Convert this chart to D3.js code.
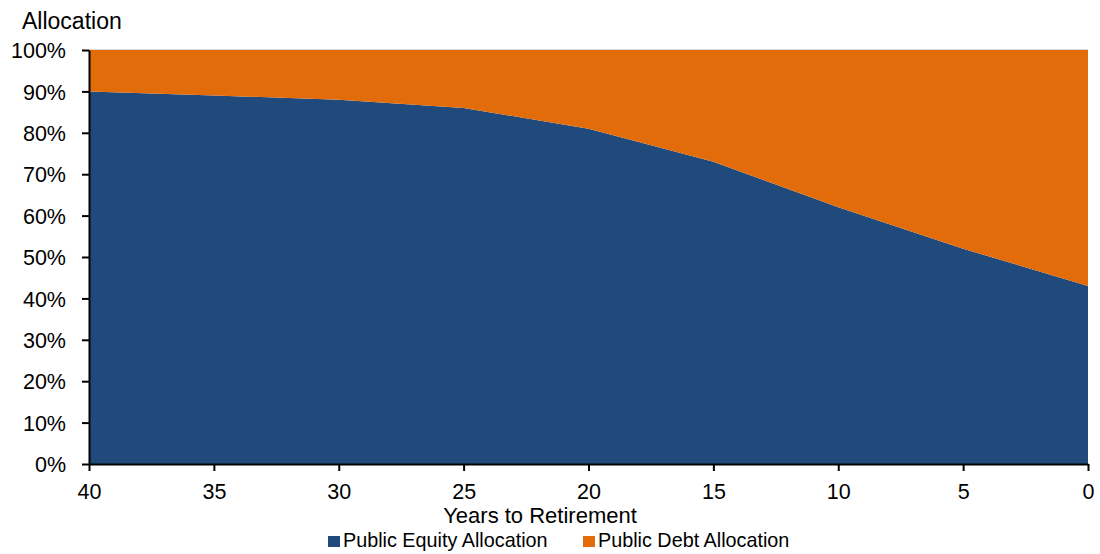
<!DOCTYPE html>
<html>
<head>
<meta charset="utf-8">
<script src="https://cdn.jsdelivr.net/npm/d3@7"></script>
<style>
  body { margin: 0; background: #fff; }
  text { font-family: "Liberation Sans", Arial, sans-serif; fill: #000; }
</style>
</head>
<body>
<div id="chart"></div>
<script>
// Glide path data
const years = [40, 35, 30, 25, 20, 15, 10, 5, 0]
const equity = [90, 89, 88, 86, 81, 73, 62, 52, 43]
const debt = equity.map(v => 100 - v)
const yTicks = [0, 10, 20, 30, 40, 50, 60, 70, 80, 90, 100]
const seriesNames = ['Public Equity Allocation', 'Public Debt Allocation']
const seriesColors = ['#204A7C', '#E36C0A']

const width = 1100
const height = 554
const margin = { top: 50, right: 12, bottom: 90, left: 89 }
const innerW = 1088 - margin.left
const innerH = 464 - margin.top

const svg = d3.select('#chart')
  .append('svg')
  .attr('width', width)
  .attr('height', height)

const g = svg.append('g').attr('transform', `translate(${margin.left},${margin.top})`)

const x = d3.scaleLinear().domain([40, 0]).range([0, innerW])
const y = d3.scaleLinear().domain([0, 100]).range([innerH, 0])

// stack the two series
const rows = years.map((yr, i) => ({ year: yr, equity: equity[i], debt: debt[i] }))
const stacked = d3.stack().keys(['equity', 'debt'])(rows)

const area = d3.area()
  .x(d => x(d.data.year))
  .y0(d => y(d[0]))
  .y1(d => y(d[1]))

g.selectAll('.layer')
  .data(stacked)
  .enter()
  .append('path')
  .attr('class', 'layer')
  .attr('d', area)
  .attr('fill', (d, i) => seriesColors[i])

// faint top border line
g.append('line')
  .attr('x1', 0).attr('x2', innerW)
  .attr('y1', y(100) - 0.5).attr('y2', y(100) - 0.5)
  .attr('stroke', '#d9d9d9')
  .attr('stroke-width', 1)

// y axis
const yAxis = g.append('g')
  .call(d3.axisLeft(y).tickValues(yTicks).tickFormat(d => d + '%').tickSize(7).tickSizeOuter(0))
yAxis.select('.domain').attr('stroke', '#000').attr('stroke-width', 2)
yAxis.selectAll('.tick line').attr('stroke', '#000').attr('stroke-width', 2)
yAxis.selectAll('.tick text')
  .attr('x', -23)
  .attr('dy', '0.36em')
  .style('font-size', '21.5px')
  .style('font-family', '"Liberation Sans", Arial, sans-serif')

// x axis
const xAxis = g.append('g')
  .attr('transform', `translate(0,${innerH})`)
  .call(d3.axisBottom(x).tickValues(years).tickFormat(d3.format('d')).tickSize(7).tickSizeOuter(0))
xAxis.select('.domain').attr('stroke', '#000').attr('stroke-width', 2)
xAxis.selectAll('.tick line').attr('stroke', '#000').attr('stroke-width', 2)
xAxis.selectAll('.tick text')
  .attr('y', 35)
  .attr('dy', 0)
  .style('font-size', '21.5px')
  .style('font-family', '"Liberation Sans", Arial, sans-serif')

// titles
svg.append('text')
  .attr('x', 22)
  .attr('y', 29)
  .style('font-size', '23px')
  .text('Allocation')

svg.append('text')
  .attr('x', 540)
  .attr('y', 523)
  .attr('text-anchor', 'middle')
  .style('font-size', '22px')
  .text('Years to Retirement')

// legend
const legendX = [328, 583]
const legend = svg.append('g')
seriesNames.forEach((name, i) => {
  legend.append('rect')
    .attr('x', legendX[i])
    .attr('y', 536)
    .attr('width', 12)
    .attr('height', 11)
    .attr('fill', seriesColors[i])
  legend.append('text')
    .attr('x', legendX[i] + 15)
    .attr('y', 547)
    .style('font-size', '19.8px')
    .text(name)
})
</script>
</body>
</html>
